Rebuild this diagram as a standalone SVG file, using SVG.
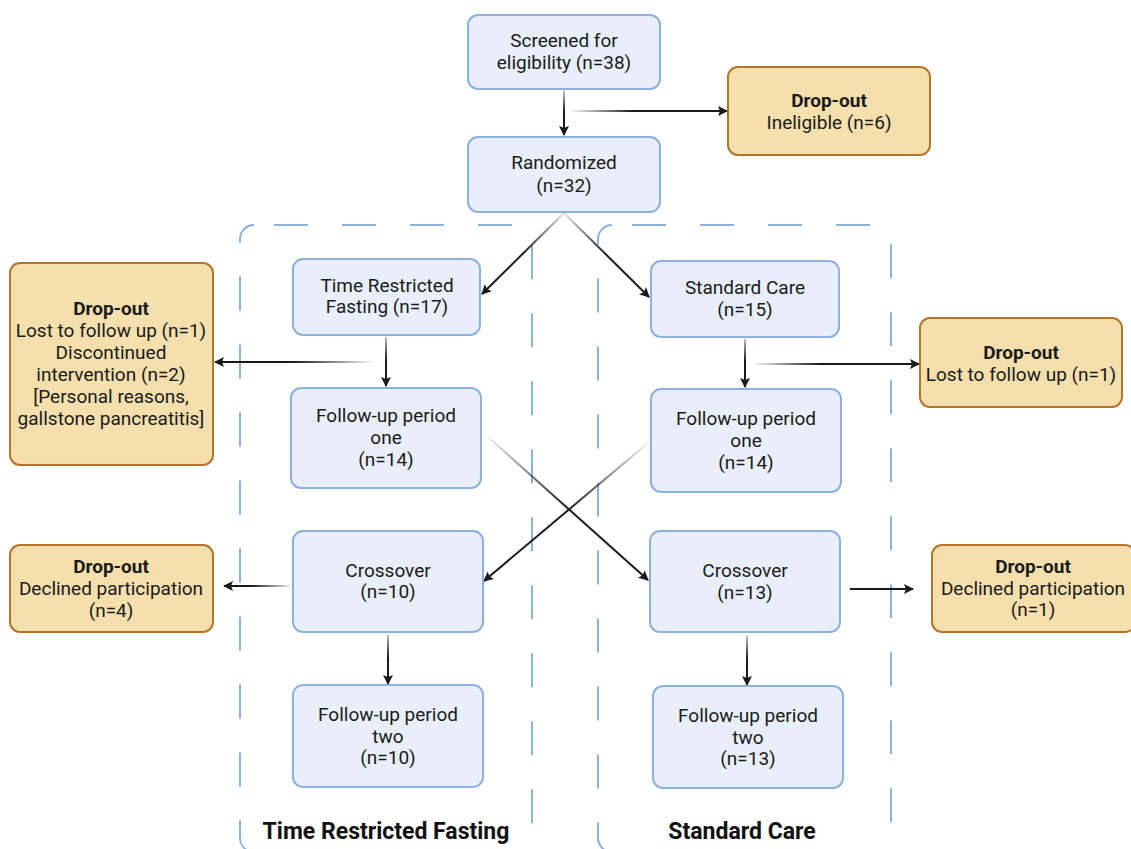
<svg xmlns="http://www.w3.org/2000/svg" width="1131" height="849" viewBox="0 0 1131 849">
<style>
.bx{fill:#e8effa;stroke:#8eb0de;stroke-width:2}
.dr{fill:#f5dfac;stroke:#b5742c;stroke-width:2}
.grp{fill:none;stroke:#8eb0de;stroke-width:2;stroke-dasharray:34 34}
text{font-family:Roboto,"Liberation Sans",sans-serif;font-size:19px;fill:#1a1a1a;text-anchor:middle}
.b{font-weight:bold}
.lab{font-weight:bold;font-size:23px;fill:#111}
.c{fill:none;stroke-width:2}
</style>
<defs>
<marker id="ah" viewBox="0 0 10 10" refX="9" refY="5" markerWidth="10" markerHeight="10" markerUnits="userSpaceOnUse" orient="auto">
<path d="M0,0 L10,5 L0,10 L2,5 z" fill="#1a1a1a"/>
</marker>
<linearGradient id="g1" gradientUnits="userSpaceOnUse" x1="564" y1="90" x2="564" y2="134"><stop offset="0" stop-color="#1a1a1a" stop-opacity="0.2"/><stop offset="0.5" stop-color="#1a1a1a"/></linearGradient>
<linearGradient id="g2" gradientUnits="userSpaceOnUse" x1="572" y1="0" x2="726" y2="0"><stop offset="0" stop-color="#1a1a1a" stop-opacity="0.05"/><stop offset="0.4" stop-color="#1a1a1a"/></linearGradient>
<linearGradient id="g3" gradientUnits="userSpaceOnUse" x1="564" y1="213" x2="482" y2="294"><stop offset="0" stop-color="#1a1a1a" stop-opacity="0.1"/><stop offset="0.5" stop-color="#1a1a1a"/></linearGradient>
<linearGradient id="g4" gradientUnits="userSpaceOnUse" x1="564" y1="213" x2="649" y2="297"><stop offset="0" stop-color="#1a1a1a" stop-opacity="0.1"/><stop offset="0.5" stop-color="#1a1a1a"/></linearGradient>
<linearGradient id="g5" gradientUnits="userSpaceOnUse" x1="0" y1="337" x2="0" y2="384"><stop offset="0" stop-color="#1a1a1a" stop-opacity="0.3"/><stop offset="0.5" stop-color="#1a1a1a"/></linearGradient>
<linearGradient id="g6" gradientUnits="userSpaceOnUse" x1="372" y1="0" x2="215" y2="0"><stop offset="0" stop-color="#1a1a1a" stop-opacity="0.05"/><stop offset="0.5" stop-color="#1a1a1a"/></linearGradient>
<linearGradient id="g7" gradientUnits="userSpaceOnUse" x1="0" y1="339" x2="0" y2="386"><stop offset="0" stop-color="#1a1a1a" stop-opacity="0.3"/><stop offset="0.5" stop-color="#1a1a1a"/></linearGradient>
<linearGradient id="g8" gradientUnits="userSpaceOnUse" x1="755" y1="0" x2="918" y2="0"><stop offset="0" stop-color="#1a1a1a" stop-opacity="0.05"/><stop offset="0.4" stop-color="#1a1a1a"/></linearGradient>
<linearGradient id="g9" gradientUnits="userSpaceOnUse" x1="488" y1="437" x2="647" y2="579"><stop offset="0" stop-color="#1a1a1a" stop-opacity="0.05"/><stop offset="0.5" stop-color="#1a1a1a"/></linearGradient>
<linearGradient id="g10" gradientUnits="userSpaceOnUse" x1="648" y1="443" x2="485" y2="580"><stop offset="0" stop-color="#1a1a1a" stop-opacity="0.05"/><stop offset="0.5" stop-color="#1a1a1a"/></linearGradient>
<linearGradient id="g11" gradientUnits="userSpaceOnUse" x1="290" y1="0" x2="224" y2="0"><stop offset="0" stop-color="#1a1a1a" stop-opacity="0.1"/><stop offset="0.6" stop-color="#1a1a1a"/></linearGradient>
<linearGradient id="g13" gradientUnits="userSpaceOnUse" x1="0" y1="635" x2="0" y2="682"><stop offset="0" stop-color="#1a1a1a" stop-opacity="0.3"/><stop offset="0.5" stop-color="#1a1a1a"/></linearGradient>
<linearGradient id="g14" gradientUnits="userSpaceOnUse" x1="0" y1="636" x2="0" y2="684"><stop offset="0" stop-color="#1a1a1a" stop-opacity="0.3"/><stop offset="0.5" stop-color="#1a1a1a"/></linearGradient>
</defs>
<rect width="1131" height="849" fill="#ffffff"/>

<g id="group-trf">
<rect class="grp" x="240" y="225" width="292" height="627" rx="14" stroke-dashoffset="-20"/>
<text class="lab" x="386" y="839">Time Restricted Fasting</text>
</g>
<g id="group-sc">
<rect class="grp" x="598" y="225" width="293" height="627" rx="14" stroke-dashoffset="-20"/>
<text class="lab" x="742" y="839">Standard Care</text>
</g>

<g id="connectors">
<line class="c" x1="564" y1="90" x2="564" y2="135" stroke="url(#g1)" marker-end="url(#ah)"/>
<line class="c" x1="572" y1="111" x2="727" y2="111" stroke="url(#g2)" marker-end="url(#ah)"/>
<line class="c" x1="564" y1="213" x2="482" y2="294" stroke="url(#g3)" marker-end="url(#ah)"/>
<line class="c" x1="564" y1="213" x2="649" y2="297" stroke="url(#g4)" marker-end="url(#ah)"/>
<line class="c" x1="386" y1="337" x2="386" y2="386" stroke="url(#g5)" marker-end="url(#ah)"/>
<line class="c" x1="372" y1="362" x2="215" y2="362" stroke="url(#g6)" marker-end="url(#ah)"/>
<line class="c" x1="745" y1="339" x2="745" y2="387" stroke="url(#g7)" marker-end="url(#ah)"/>
<line class="c" x1="755" y1="364" x2="919" y2="364" stroke="url(#g8)" marker-end="url(#ah)"/>
<line class="c" x1="488" y1="437" x2="648" y2="580" stroke="url(#g9)" marker-end="url(#ah)"/>
<line class="c" x1="648" y1="443" x2="484" y2="581" stroke="url(#g10)" marker-end="url(#ah)"/>
<line class="c" x1="290" y1="586" x2="224" y2="586" stroke="url(#g11)" marker-end="url(#ah)"/>
<line class="c" x1="850" y1="589" x2="913" y2="589" stroke="#1a1a1a" stroke-width="1.3" marker-end="url(#ah)"/>
<line class="c" x1="388" y1="635" x2="388" y2="684" stroke="url(#g13)" marker-end="url(#ah)"/>
<line class="c" x1="747" y1="636" x2="747" y2="685" stroke="url(#g14)" marker-end="url(#ah)"/>
</g>

<g id="screened">
<rect class="bx" x="468" y="15" width="192" height="74" rx="10"/>
<text x="564" y="47">Screened for</text>
<text x="564" y="69">eligibility (n=38)</text>
</g>
<g id="dropout-ineligible">
<rect class="dr" x="728" y="67" width="202" height="88" rx="10"/>
<text class="b" x="829" y="107">Drop-out</text>
<text x="829" y="129">Ineligible (n=6)</text>
</g>
<g id="randomized">
<rect class="bx" x="468" y="137" width="192" height="75" rx="10"/>
<text x="564" y="169">Randomized</text>
<text x="564" y="192">(n=32)</text>
</g>
<g id="trf">
<rect class="bx" x="293" y="259" width="187" height="76" rx="10"/>
<text x="387" y="292">Time Restricted</text>
<text x="387" y="313">Fasting (n=17)</text>
</g>
<g id="sc">
<rect class="bx" x="651" y="261" width="188" height="76" rx="10"/>
<text x="745" y="294">Standard Care</text>
<text x="745" y="316">(n=15)</text>
</g>
<g id="dropout-trf-1">
<rect class="dr" x="10" y="263" width="203" height="202" rx="10"/>
<text class="b" x="111" y="315">Drop-out</text>
<text x="111" y="337">Lost to follow up (n=1)</text>
<text x="111" y="359">Discontinued</text>
<text x="111" y="381">intervention (n=2)</text>
<text x="111" y="403">[Personal reasons,</text>
<text x="111" y="425">gallstone pancreatitis]</text>
</g>
<g id="dropout-sc-1">
<rect class="dr" x="920" y="318" width="202" height="89" rx="10"/>
<text class="b" x="1021" y="359">Drop-out</text>
<text x="1021" y="381">Lost to follow up (n=1)</text>
</g>
<g id="fu1-trf">
<rect class="bx" x="291" y="388" width="190" height="100" rx="10"/>
<text x="386" y="422">Follow-up period</text>
<text x="386" y="444">one</text>
<text x="386" y="466">(n=14)</text>
</g>
<g id="fu1-sc">
<rect class="bx" x="651" y="389" width="190" height="103" rx="10"/>
<text x="746" y="425">Follow-up period</text>
<text x="746" y="447">one</text>
<text x="746" y="469">(n=14)</text>
</g>
<g id="crossover-trf">
<rect class="bx" x="293" y="531" width="190" height="101" rx="10"/>
<text x="388" y="577">Crossover</text>
<text x="388" y="598">(n=10)</text>
</g>
<g id="crossover-sc">
<rect class="bx" x="650" y="531" width="190" height="101" rx="10"/>
<text x="745" y="577">Crossover</text>
<text x="745" y="599">(n=13)</text>
</g>
<g id="dropout-trf-2">
<rect class="dr" x="10" y="545" width="203" height="87" rx="10"/>
<text class="b" x="111" y="573">Drop-out</text>
<text x="111" y="595">Declined participation</text>
<text x="111" y="617">(n=4)</text>
</g>
<g id="dropout-sc-2">
<rect class="dr" x="932" y="545" width="203" height="87" rx="10"/>
<text class="b" x="1033" y="573">Drop-out</text>
<text x="1033" y="595">Declined participation</text>
<text x="1033" y="616">(n=1)</text>
</g>
<g id="fu2-trf">
<rect class="bx" x="293" y="685" width="190" height="102" rx="10"/>
<text x="388" y="721">Follow-up period</text>
<text x="388" y="743">two</text>
<text x="388" y="764">(n=10)</text>
</g>
<g id="fu2-sc">
<rect class="bx" x="653" y="686" width="190" height="102" rx="10"/>
<text x="748" y="722">Follow-up period</text>
<text x="748" y="744">two</text>
<text x="748" y="765">(n=13)</text>
</g>
</svg>
